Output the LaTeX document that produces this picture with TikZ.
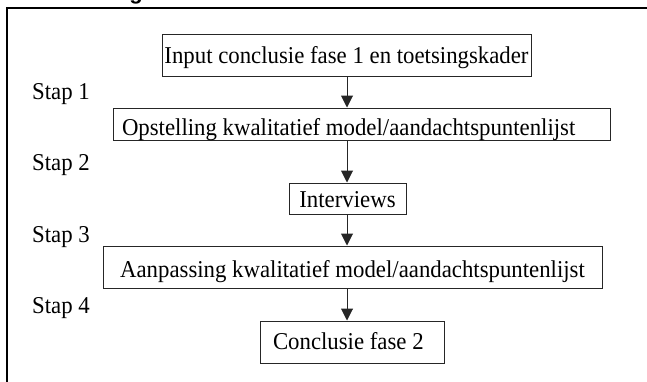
\documentclass[tikz,border=0pt]{standalone}
\usepackage{fontspec}
\usepackage{graphicx}
\setmainfont{Liberation Serif}
\newfontfamily\headfont{Liberation Sans}
\usetikzlibrary{arrows.meta}
% slightly tall lettering for all labels
\newcommand\talltext[1]{\scalebox{1}[1.06]{#1}}
\begin{document}
\begin{tikzpicture}[x=1pt,y=-1pt,
  box/.style={draw=black!85, line width=1pt, inner xsep=0pt, inner ysep=0pt,
    font=\fontsize{22.8}{26}\selectfont, anchor=base},
  steplabel/.style={anchor=base west, inner sep=0pt, font=\fontsize{22.8}{26}\selectfont},
  flow/.style={draw=black!85, line width=1pt, -{Triangle[length=12pt,width=12pt]}},
]
\useasboundingbox (0,0) rectangle (647,381);

% tail of the heading above the frame
\node[anchor=base, inner sep=0pt, font=\headfont\bfseries\fontsize{22}{26}\selectfont]
  (headtail) at (136,-1) {g};

% outer frame, running on past the right and bottom edges
\draw[line width=2.3pt] (7,8) rectangle (700,430);

% process boxes
\node[box, minimum width=369pt, text height=29pt, text depth=13pt] (b1) at (346.5,63)
  {\talltext{Input conclusie fase 1 en toetsingskader}};
\node[box, inner xsep=9pt, text height=27pt, text depth=5pt] (b2) at (361.5,135)
  {\makebox[479pt][l]{\talltext{Opstelling kwalitatief model/aandachtspuntenlijst}}};
\node[box, minimum width=117pt, text height=24pt, text depth=7pt] (b3) at (347.5,207)
  {\talltext{Interviews}};
\node[box, minimum width=499pt, text height=31pt, text depth=11pt] (b4) at (352.5,277)
  {\talltext{Aanpassing kwalitatief model/aandachtspuntenlijst}};
\node[box, inner xsep=13pt, text height=28pt, text depth=14pt] (b5) at (352,349)
  {\makebox[158pt][l]{\talltext{Conclusie fase 2}}};

% step labels
\node[steplabel] (s1) at (32,99) {\talltext{Stap 1}};
\node[steplabel] (s2) at (32,170) {\talltext{Stap 2}};
\node[steplabel] (s3) at (32,242) {\talltext{Stap 3}};
\node[steplabel] (s4) at (32,313) {\talltext{Stap 4}};

% connectors
\coordinate (axis) at (347,0);
\draw[flow] (b1.south -| axis) -- (b2.north -| axis);
\draw[flow] (b2.south -| axis) -- (b3.north -| axis);
\draw[flow] (b3.south -| axis) -- (b4.north -| axis);
\draw[flow] (b4.south -| axis) -- (b5.north -| axis);
\end{tikzpicture}
\end{document}
